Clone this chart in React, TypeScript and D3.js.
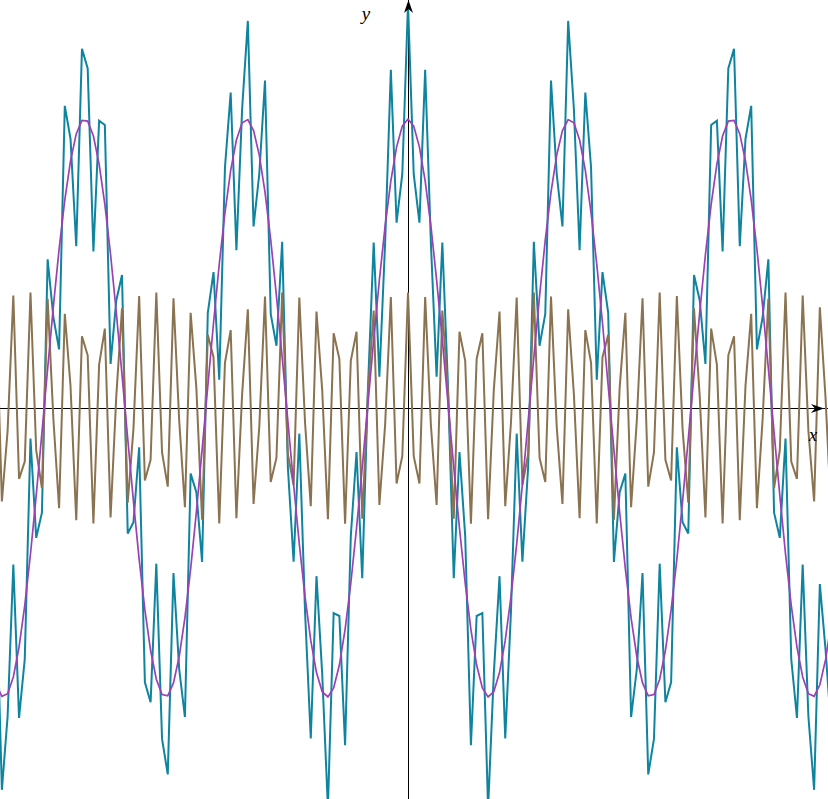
import React from "react";
import * as d3 from "d3";

// Function-plot description
const componentAmplitudes = [1, 0.4];
const componentFrequencies = [1, 9];
const sampleStep = 2 / 9;
const sampleIndexRange = [-73, 75];
const xDomain = [-15.851, 16.317];
const yDomain = [-1.3529, 1.4118];
const seriesColors = { sum: "#0f849f", high: "#8b7351", low: "#9c40b5" };
const axisLabels = ["x", "y"];

const W = 828;
const H = 799;

export default function App() {
  const x = d3.scaleLinear().domain(xDomain).range([0, W]);
  const y = d3.scaleLinear().domain(yDomain).range([H, 0]);
  const xs = d3.range(sampleIndexRange[0], sampleIndexRange[1] + 1).map((k) => k * sampleStep);
  const comp = (i: number, t: number) =>
    componentAmplitudes[i] * Math.cos(componentFrequencies[i] * t);
  const low = xs.map((t) => [t, comp(0, t)] as [number, number]);
  const high = xs.map((t) => [t, comp(1, t)] as [number, number]);
  const sum = xs.map((t) => [t, comp(0, t) + comp(1, t)] as [number, number]);
  const line = d3
    .line<[number, number]>()
    .x((d) => x(d[0]))
    .y((d) => y(d[1]));
  const ox = Math.round(x(0)) + 0.5;
  const oy = Math.round(y(0)) + 0.5;
  return (
    <svg
      width={W}
      height={H}
      style={{ position: "absolute", left: 0, top: 0, background: "#fff" }}
    >
      <line x1={0} x2={W} y1={oy} y2={oy} stroke="#000" strokeWidth={1} />
      <line x1={ox} x2={ox} y1={0} y2={H} stroke="#000" strokeWidth={1} />
      <path d={line(sum) || ""} fill="none" stroke={seriesColors.sum} strokeWidth={2} />
      <path d={line(high) || ""} fill="none" stroke={seriesColors.high} strokeWidth={2} />
      <path d={line(low) || ""} fill="none" stroke={seriesColors.low} strokeWidth={1.7} />
      <path
        d={`M${W - 4},${oy} L${W - 17},${oy - 4.5} L${W - 13},${oy} L${W - 17},${oy + 4.5} Z`}
        fill="#000"
      />
      <path d={`M${ox},0 L${ox - 4.5},13 L${ox},9 L${ox + 4.5},13 Z`} fill="#000" />
      <text x={813} y={441} fontFamily="Liberation Serif, serif" fontStyle="italic" fontSize={19} textAnchor="middle">
        {axisLabels[0]}
      </text>
      <text x={366} y={20} fontFamily="Liberation Serif, serif" fontStyle="italic" fontSize={19} textAnchor="middle">
        {axisLabels[1]}
      </text>
    </svg>
  );
}
